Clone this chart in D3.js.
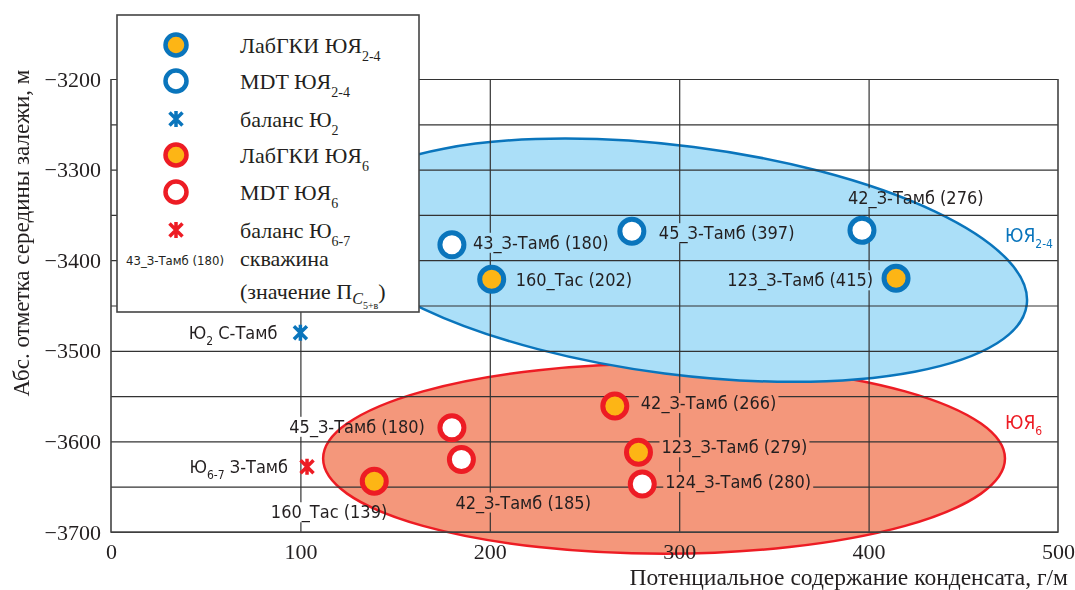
<!DOCTYPE html>
<html>
<head>
<meta charset="utf-8">
<script src="https://d3js.org/d3.v7.min.js"></script>
<style>
  body { margin: 0; background: #fff; }
  svg { display: block; }
  .serif { font-family: 'Liberation Serif', 'Times New Roman', serif; fill: #231f20; }
  .narrow { font-family: 'Liberation Sans Narrow', 'Arial Narrow', 'DejaVu Sans Condensed', sans-serif; fill: #231f20; }
</style>
</head>
<body>
<svg width="1075" height="590"></svg>
<script>
// data: x = потенциальное содержание конденсата (г/м), y = абс. отметка (м)
var labYa24 = [
  { well: '160_Тас (202)', x: 201, y: -3421 },
  { well: '123_З-Тамб (415)', x: 414.5, y: -3420 }
];
var mdtYa24 = [
  { well: '43_З-Тамб (180)', x: 180, y: -3383 },
  { well: '45_З-Тамб (397)', x: 275, y: -3368 },
  { well: '42_З-Тамб (276)', x: 396.5, y: -3367 }
];
var balanceU2 = [
  { well: 'Ю{2} С-Тамб', x: 100, y: -3480 }
];
var labYa6 = [
  { well: '42_З-Тамб (266)', x: 266, y: -3561 },
  { well: '123_З-Тамб (279)', x: 278.5, y: -3612 },
  { well: '160_Тас (139)', x: 139, y: -3644 }
];
var mdtYa6 = [
  { well: '45_З-Тамб (180)', x: 180, y: -3585 },
  { well: '42_З-Тамб (185)', x: 185, y: -3620 },
  { well: '124_З-Тамб (280)', x: 280.5, y: -3647 }
];
var balanceU67 = [
  { well: 'Ю{6-7} З-Тамб', x: 103.5, y: -3628 }
];

// zones (ellipses), data units
var zoneNames = ['ЮЯ{2-4}', 'ЮЯ{6}'];
var zoneCx = [300, 292];
var zoneCy = [-3400, -3619];
var zoneRx = [185, 180];
var zoneRy = [126, 105];
var zoneTilt = [7.3, 0];
var zoneLabelX = [472, 472];
var zoneLabelY = [-3372, -3579];

var xTicks = [0, 100, 200, 300, 400, 500];
var yTicks = [-3700, -3600, -3500, -3400, -3300, -3200];
var legendNames = ['ЛабГКИ ЮЯ{2-4}', 'MDT ЮЯ{2-4}', 'баланс Ю{2}', 'ЛабГКИ ЮЯ{6}', 'MDT ЮЯ{6}', 'баланс Ю{6-7}'];

// label placement around marker: anchor, dx, dy
var labelPlace = {
  '43_З-Тамб (180)': ['start', 21, -2],
  '160_Тас (202)': ['start', 24, 1],
  '45_З-Тамб (397)': ['start', 27, 2],
  '42_З-Тамб (276)': ['start', -14, -32],
  '123_З-Тамб (415)': ['end', -23, 2],
  'Ю{2} С-Тамб': ['end', -23, 0],
  '42_З-Тамб (266)': ['start', 26, -3],
  '123_З-Тамб (279)': ['start', 23, -5],
  '124_З-Тамб (280)': ['start', 23, -2],
  '45_З-Тамб (180)': ['end', -27, -1],
  '42_З-Тамб (185)': ['start', -6, 43],
  '160_Тас (139)': ['end', 13, 31],
  'Ю{6-7} З-Тамб': ['end', -19, 0]
};

var BLUE = '#0a75bc', RED = '#ed1c24', ORANGE = '#fdb515';
var SERIF = "'Liberation Serif', 'Times New Roman', serif";
var W = 1075, H = 590;

var x = d3.scaleLinear().domain([0, 500]).range([111, 1058]);
var y = d3.scaleLinear().domain([-3700, -3200]).range([532, 79]);

var svg = d3.select('svg');

// mask so grid lines break under the labels
var mask = svg.append('defs').append('mask')
  .attr('id', 'gridMask')
  .attr('maskUnits', 'userSpaceOnUse')
  .attr('x', 0).attr('y', 0).attr('width', W).attr('height', H);
mask.append('rect').attr('width', W).attr('height', H).attr('fill', '#fff');

// text with {subscripts}
var rich = function (sel, str, subSize, subDy) {
  var parts = str.split(/(\{[^}]*\})/).filter(function (p) { return p.length; });
  var down = false;
  parts.forEach(function (p) {
    if (p[0] === '{') {
      sel.append('tspan').attr('font-size', subSize).attr('dy', subDy).text(p.slice(1, -1));
      down = true;
    } else {
      sel.append('tspan').attr('dy', down ? -subDy : 0).text(p);
      down = false;
    }
  });
};

// ellipses: red first, blue on top
var zoneFill = ['#abdff8', '#f4977b'];
var zoneStroke = [BLUE, RED];
[1, 0].forEach(function (i) {
  var cx = x(zoneCx[i]), cy = y(zoneCy[i]);
  svg.append('ellipse')
    .attr('cx', cx).attr('cy', cy)
    .attr('rx', x(zoneCx[i] + zoneRx[i]) - cx)
    .attr('ry', y(zoneCy[i] - zoneRy[i]) - cy)
    .attr('transform', 'rotate(' + zoneTilt[i] + ',' + cx + ',' + cy + ')')
    .style('fill', zoneFill[i])
    .style('stroke', zoneStroke[i])
    .style('stroke-width', 2.5);
});

// grid
var grid = svg.append('g').attr('mask', 'url(#gridMask)');
grid.append('g')
  .attr('transform', 'translate(' + x(0) + ',0)')
  .call(d3.axisLeft(y).tickValues(d3.range(-3700, -3199, 50)).tickSize(-(x(500) - x(0))).tickFormat(''));
grid.append('g')
  .attr('transform', 'translate(0,' + y(-3700) + ')')
  .call(d3.axisBottom(x).tickValues([100, 200, 300, 400]).tickSize(-(y(-3700) - y(-3200))).tickFormat(''));
grid.selectAll('.domain').remove();
grid.selectAll('line').style('stroke', '#333').style('stroke-width', 1.2);

// axis lines and right border
svg.append('path')
  .attr('d', 'M' + x(0) + ',' + y(-3200) + 'V' + y(-3700) + 'H' + x(500) + 'V' + y(-3200))
  .style('fill', 'none').style('stroke', '#444').style('stroke-width', 1.6);

// well labels
var labels = svg.append('g').attr('class', 'narrow').style('font-size', '18px');
var allPoints = [].concat(labYa24, mdtYa24, balanceU2, labYa6, mdtYa6, balanceU67);
allPoints.forEach(function (d) {
  var p = labelPlace[d.well];
  var t = labels.append('text')
    .attr('x', x(d.x) + p[1])
    .attr('y', y(d.y) + p[2] + 6)
    .attr('text-anchor', p[0]);
  rich(t, d.well, 12, 6);
  var b = t.node().getBBox();
  mask.append('rect')
    .attr('x', b.x - 2).attr('y', b.y + 1)
    .attr('width', b.width + 4).attr('height', b.height - 2)
    .attr('fill', '#000');
});

// zone names
zoneNames.forEach(function (n, i) {
  var t = svg.append('text').attr('class', 'narrow')
    .attr('x', x(zoneLabelX[i])).attr('y', y(zoneLabelY[i]) + 7)
    .style('font-size', '19px')
    .style('fill', zoneStroke[i]);
  rich(t, n, 12, 6);
});

// markers
var ring = function (data, stroke, fill, r, sw, g) {
  g.selectAll(null)
    .data(data)
    .enter()
    .append('circle')
    .attr('cx', function (d) { return x(d.x); })
    .attr('cy', function (d) { return y(d.y); })
    .attr('r', r)
    .style('fill', fill)
    .style('stroke', stroke)
    .style('stroke-width', sw);
};
var starPath = 'M0,-8V8M-6.5,-6.5L6.5,6.5M-6.5,6.5L6.5,-6.5';
var star = function (data, color, g) {
  g.selectAll(null)
    .data(data)
    .enter()
    .append('path')
    .attr('d', starPath)
    .attr('transform', function (d) { return 'translate(' + x(d.x) + ',' + y(d.y) + ')'; })
    .style('fill', 'none')
    .style('stroke', color)
    .style('stroke-width', 3.5);
};
var marks = svg.append('g');
ring(labYa24, BLUE, ORANGE, 12, 5, marks);
ring(mdtYa24, BLUE, '#fff', 12, 5, marks);
star(balanceU2, BLUE, marks);
ring(labYa6, RED, ORANGE, 12, 5, marks);
ring(mdtYa6, RED, '#fff', 12, 5, marks);
star(balanceU67, RED, marks);

// legend
var lg = svg.append('g');
lg.append('rect')
  .attr('x', 117).attr('y', 15).attr('width', 302).attr('height', 297)
  .style('fill', '#fff').style('stroke', '#444').style('stroke-width', 1.6);
var rowY = [45, 81, 119, 155, 192, 230];
var kinds = [[BLUE, ORANGE], [BLUE, '#fff'], [BLUE, null], [RED, ORANGE], [RED, '#fff'], [RED, null]];
legendNames.forEach(function (n, i) {
  var k = kinds[i];
  if (k[1]) {
    lg.append('circle').attr('cx', 176).attr('cy', rowY[i]).attr('r', 10.5)
      .style('fill', k[1]).style('stroke', k[0]).style('stroke-width', 4.5);
  } else {
    lg.append('path').attr('d', starPath).attr('transform', 'translate(176,' + rowY[i] + ')')
      .style('fill', 'none').style('stroke', k[0]).style('stroke-width', 3.5);
  }
  var t = lg.append('text').attr('class', 'serif')
    .attr('x', 240).attr('y', rowY[i] + 8)
    .style('font-size', '22px');
  rich(t, n, 14, 8);
});
lg.append('text').attr('class', 'narrow')
  .attr('x', 126).attr('y', 265)
  .style('font-size', '13px')
  .text('43_З-Тамб (180)');
lg.append('text').attr('class', 'serif')
  .attr('x', 240).attr('y', 266)
  .style('font-size', '22px')
  .text('скважина');
var t2 = lg.append('text').attr('class', 'serif')
  .attr('x', 240).attr('y', 299)
  .style('font-size', '22px');
t2.append('tspan').text('(значение П');
t2.append('tspan').attr('font-size', 16).attr('font-style', 'italic').attr('dy', 5).text('C');
t2.append('tspan').attr('font-size', 10).attr('dy', 5).text('5+в');
t2.append('tspan').attr('dy', -10).text(')');

// tick labels
var yAxis = svg.append('g')
  .attr('transform', 'translate(' + x(0) + ',0)')
  .call(d3.axisLeft(y).tickValues(yTicks).tickFormat(d3.format('d')).tickSize(0).tickPadding(10));
var xAxis = svg.append('g')
  .attr('transform', 'translate(0,' + y(-3700) + ')')
  .call(d3.axisBottom(x).tickValues(xTicks).tickFormat(d3.format('d')).tickSize(0).tickPadding(11));
[xAxis, yAxis].forEach(function (a) {
  a.select('.domain').remove();
  a.attr('font-family', SERIF).attr('font-size', 22);
  a.selectAll('text')
    .style('font-family', SERIF)
    .style('font-size', '22px')
    .style('fill', '#231f20');
});

// axis titles
svg.append('text').attr('class', 'serif')
  .attr('transform', 'translate(29,233) rotate(-90)')
  .attr('text-anchor', 'middle')
  .style('font-size', '23px')
  .text('Абс. отметка середины залежи, м');
svg.append('text').attr('class', 'serif')
  .attr('x', 1068).attr('y', 585)
  .attr('text-anchor', 'end')
  .style('font-size', '23.5px')
  .text('Потенциальное содержание конденсата, г/м');
</script>
</body>
</html>
